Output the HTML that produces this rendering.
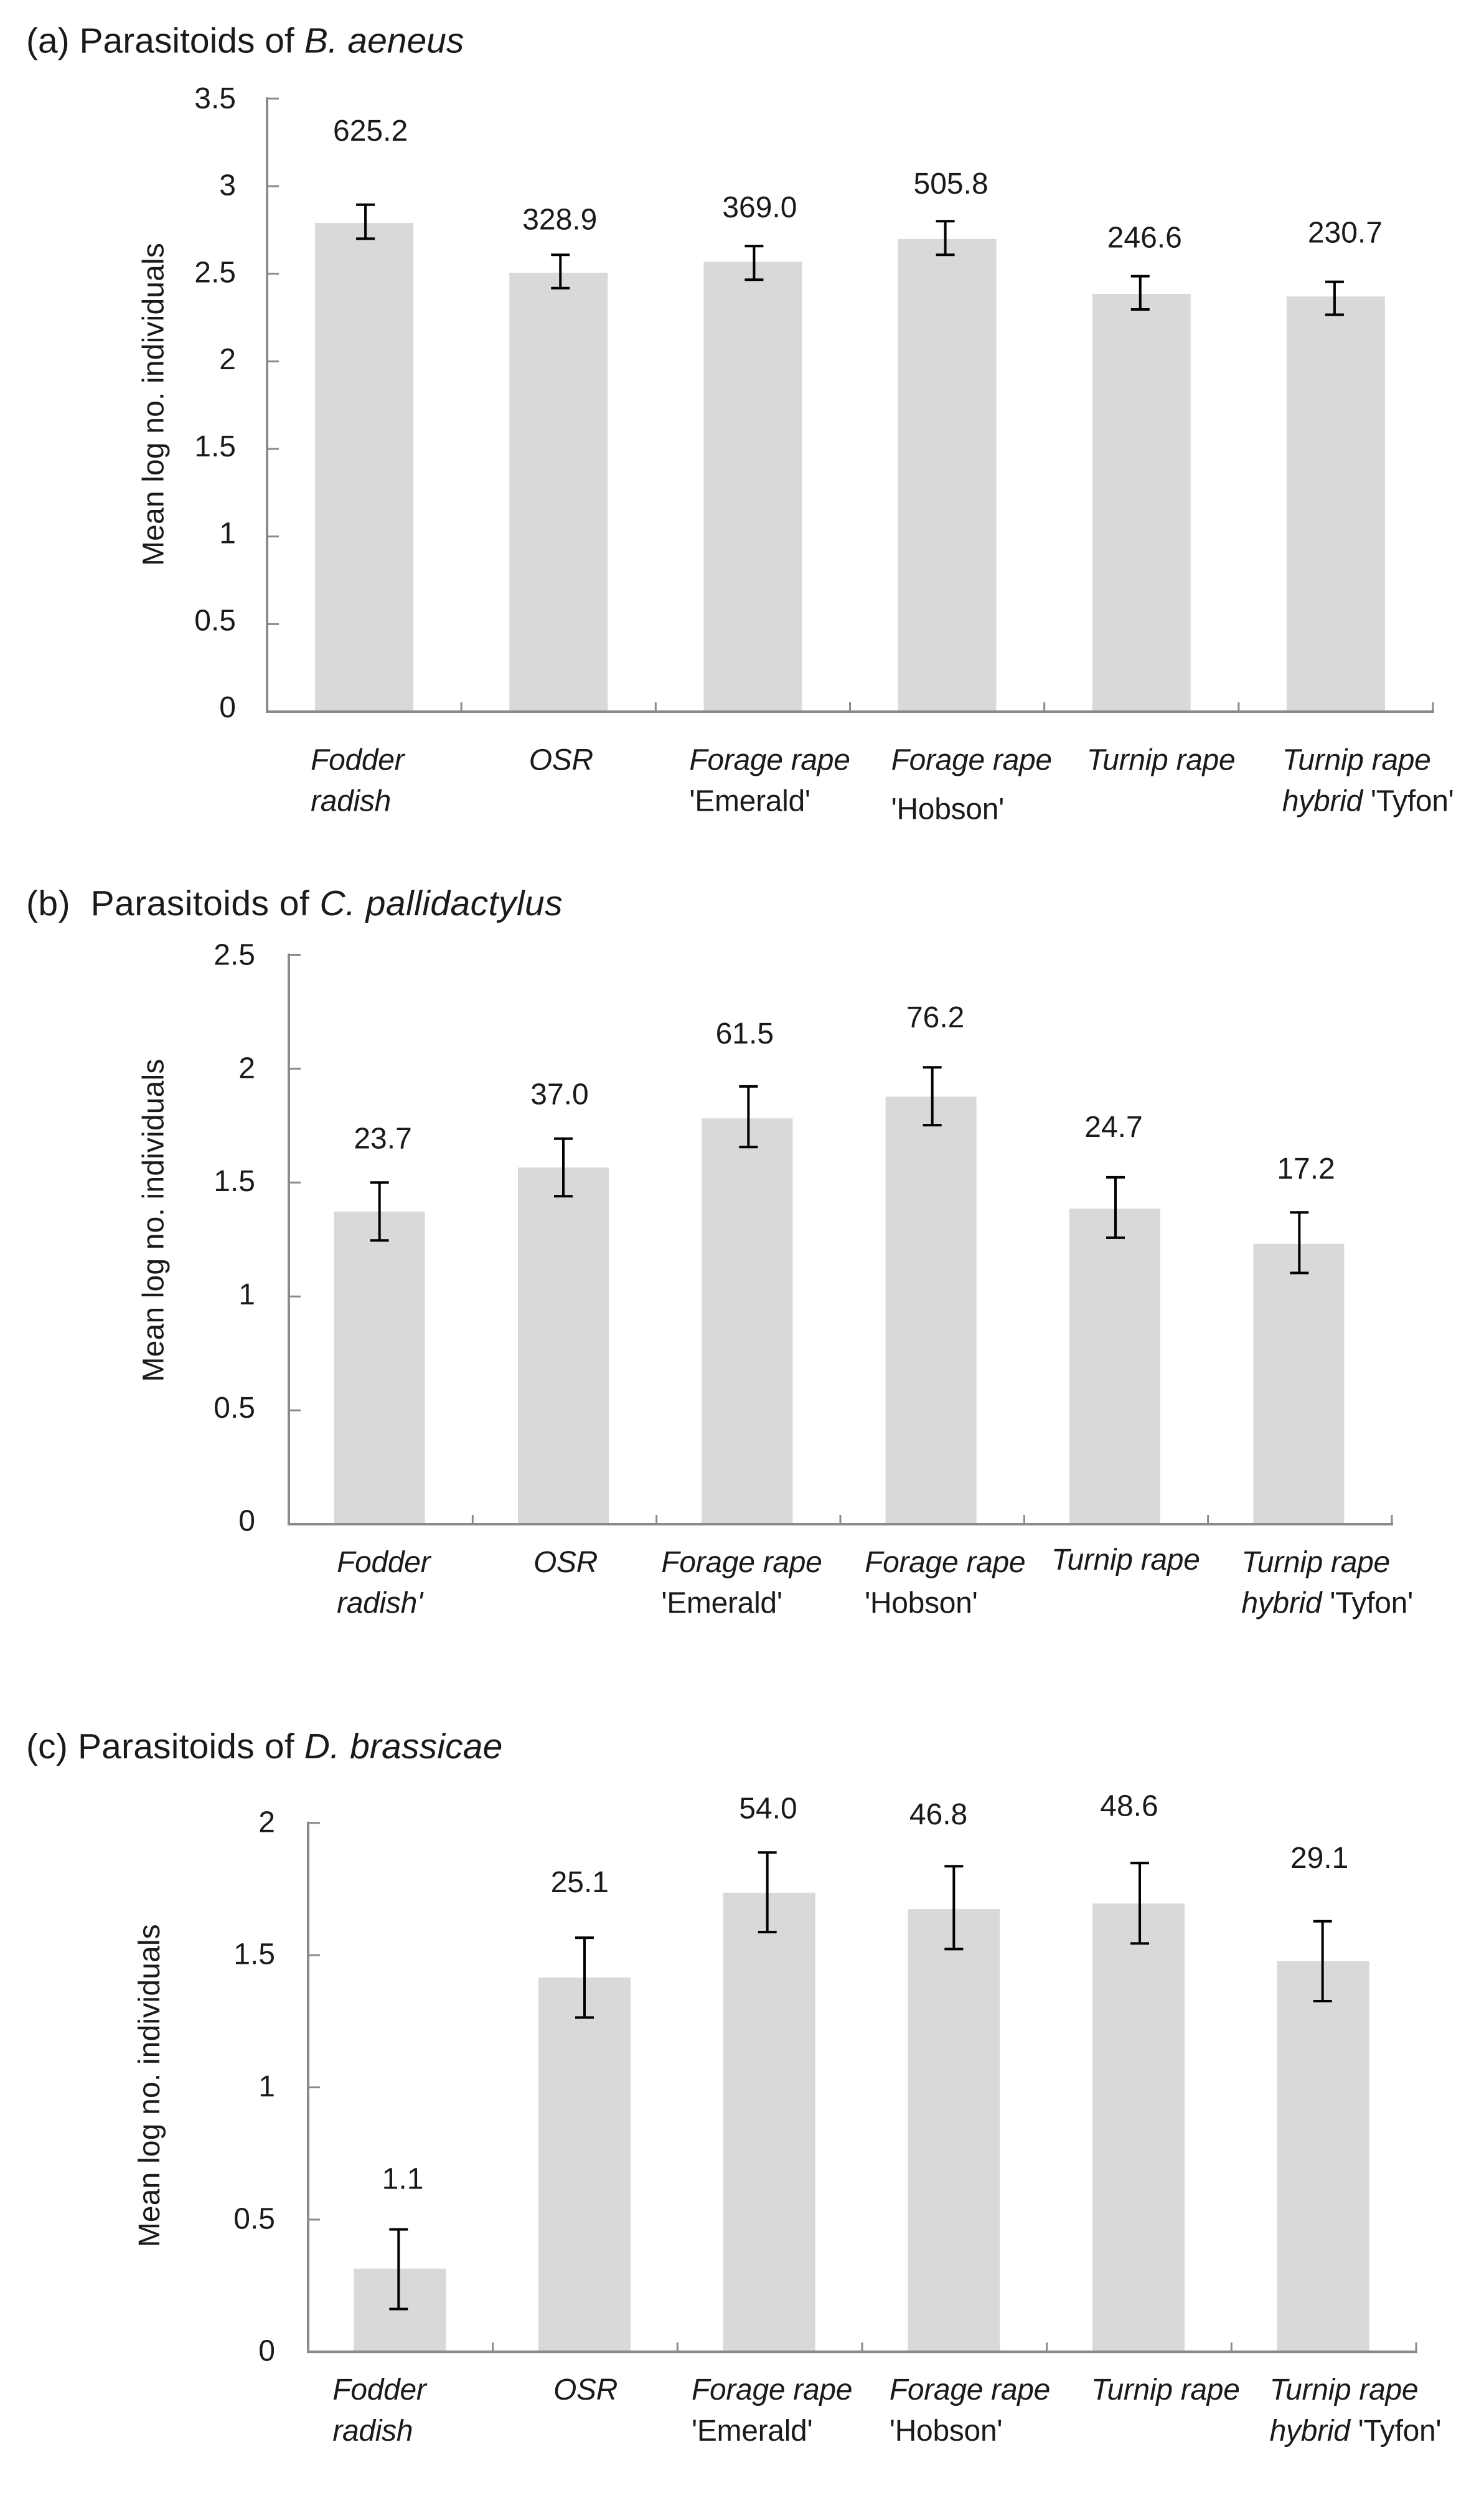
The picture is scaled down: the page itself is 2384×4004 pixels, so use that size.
<!DOCTYPE html>
<html lang="en">
<head>
<meta charset="utf-8">
<title>Mean log number of parasitoid individuals by crop</title>
<style>
  html, body { margin: 0; padding: 0; background: #fff; }
  body { width: 2384px; height: 4004px; overflow: hidden; }
  svg { display: block; }
  text { font-family: "Liberation Sans", sans-serif; fill: #1a1a1a; }
  .panel-title { font-size: 57px; }
  .tick-label { font-size: 48px; text-anchor: end; }
  .value-label { font-size: 48px; text-anchor: middle; }
  .cat-label { font-size: 48px; letter-spacing: -0.3px; }
  .axis-title { font-size: 48px; letter-spacing: 0.17px; }
</style>
</head>
<body>
<svg id="figure" xmlns="http://www.w3.org/2000/svg" width="2384" height="4004" viewBox="0 0 2384 4004">
  <rect x="0" y="0" width="2384" height="4004" fill="#ffffff"/>
  <text class="panel-title" x="42" y="84.4">(a) Parasitoids of <tspan font-style="italic">B. aeneus</tspan></text>
  <text class="panel-title" x="42" y="1470" xml:space="preserve" style="letter-spacing:0.45px">(b)  Parasitoids of <tspan font-style="italic">C. pallidactylus</tspan></text>
  <text class="panel-title" x="42" y="2824" style="letter-spacing:0.17px">(c) Parasitoids of <tspan font-style="italic">D. brassicae</tspan></text>
</svg>

<script>
// ---------- Panel (a) data ----------
const categoriesA = ["Fodder|radish", "OSR", "Forage rape|'Emerald'", "Forage rape|'Hobson'", "Turnip rape", "Turnip rape|hybrid 'Tyfon'"];
const meansA = [2.79, 2.506, 2.568, 2.698, 2.385, 2.37];
const errHighA = [2.894, 2.608, 2.658, 2.80, 2.486, 2.454];
const errLowA = [2.70, 2.418, 2.466, 2.608, 2.296, 2.266];
const printedA = ["625.2", "328.9", "369.0", "505.8", "246.6", "230.7"];
const yTicksA = [0, 0.5, 1, 1.5, 2, 2.5, 3, 3.5];
const yTickLabelsA = ["0", "0.5", "1", "1.5", "2", "2.5", "3", "3.5"];

// ---------- Panel (b) data ----------
const categoriesB = ["Fodder|radish'", "OSR", "Forage rape|'Emerald'", "Forage rape|'Hobson'", "Turnip rape", "Turnip rape|hybrid 'Tyfon'"];
const meansB = [1.373, 1.566, 1.782, 1.877, 1.385, 1.231];
const errHighB = [1.50, 1.693, 1.922, 2.006, 1.523, 1.369];
const errLowB = [1.246, 1.44, 1.656, 1.752, 1.258, 1.103];
const printedB = ["23.7", "37.0", "61.5", "76.2", "24.7", "17.2"];
const yTicksB = [0, 0.5, 1, 1.5, 2, 2.5];
const yTickLabelsB = ["0", "0.5", "1", "1.5", "2", "2.5"];

// ---------- Panel (c) data ----------
const categoriesC = ["Fodder|radish", "OSR", "Forage rape|'Emerald'", "Forage rape|'Hobson'", "Turnip rape", "Turnip rape|hybrid 'Tyfon'"];
const meansC = [0.3146, 1.415, 1.736, 1.674, 1.695, 1.477];
const errHighC = [0.463, 1.566, 1.888, 1.836, 1.848, 1.628];
const errLowC = [0.162, 1.264, 1.587, 1.523, 1.544, 1.326];
const printedC = ["1.1", "25.1", "54.0", "46.8", "48.6", "29.1"];
const yTicksC = [0, 0.5, 1, 1.5, 2];
const yTickLabelsC = ["0", "0.5", "1", "1.5", "2"];

// ---------- Layout (pixels; separate from the data above) ----------
const layoutA = {
  key: 'a', left: 429, right: 2302, top: 158.3, bottom: 1143, yMax: 3.5,
  barWidth: 158, bandShift: 0, errNudge: [2, 3, 2, -3, -2, -2],
  labelDx: [10, 2, 11, 6, 5, 15], labelGap: [102.8, 41, 46, 44.4, 46, 63],
  tickRight: 379, tickDyBottom: 9, tickDyTop: 15.6,
  catDx: [-86, -47.5, -102, -90, -88, -86], catBase: 93.7, catLine: 66, catLineExtra: [0, 0, 0, 13, 0, 0], catRaise: [0, 0, 0, 0, 0, 0],
  titleX: 262.5, titleMid: 649.5
};
const layoutB = {
  key: 'b', left: 464, right: 2236, top: 1533.5, bottom: 2448, yMax: 2.5,
  barWidth: 146, bandShift: -2, errNudge: [0, 0, 2, 2, 1, 1],
  labelDx: [5.4, -6, -4, 7, -2, 11.7], labelGap: [55, 55, 69, 64, 65, 54],
  tickRight: 410, tickDyBottom: 10.7, tickDyTop: 16,
  catDx: [-68.6, -48, -138, -106.6, -102, -92], catBase: 77, catLine: 65.7, catLineExtra: [0, 0, 0, 0, 0, 0], catRaise: [0, 0, 0, 0, 4, 0],
  titleX: 262.5, titleMid: 1960
};
const layoutC = {
  key: 'c', left: 495, right: 2275, top: 2927.7, bottom: 3777.3, yMax: 2,
  barWidth: 148, bandShift: -1, errNudge: [-2, 0, -3, 0, 2, -1],
  labelDx: [4.7, -7.7, -1.7, -24.8, -15, -6], labelGap: [65, 73, 54.6, 67.4, 76, 85.6],
  tickRight: 442, tickDyBottom: 14.4, tickDyTop: 14.6,
  catDx: [-108, -50, -124.7, -103.5, -76, -86], catBase: 76.7, catLine: 66, catLineExtra: [0, 0, 0, 0, 0, 0], catRaise: [0, 0, 0, 0, 0, 0],
  titleX: 256, titleMid: 3349.7
};

const SVG_NS = 'http://www.w3.org/2000/svg';
const figure = document.getElementById('figure');

function make(tag, attrs, parent) {
  const node = document.createElementNS(SVG_NS, tag);
  for (const k in attrs) node.setAttribute(k, attrs[k]);
  parent.appendChild(node);
  return node;
}

// Quoted cultivar names are upright, everything else on a category line is italic.
function fillCategoryLine(textNode, line) {
  const parts = line.split(/('[^']+')/).filter(function (p) { return p.length > 0; });
  parts.forEach(function (part) {
    const span = document.createElementNS(SVG_NS, 'tspan');
    const quoted = /^'[^']+'$/.test(part);
    span.setAttribute('font-style', quoted ? 'normal' : 'italic');
    span.textContent = part;
    textNode.appendChild(span);
  });
}

function drawPanel(L, categories, means, errHigh, errLow, printed, yTicks, yTickLabels) {
  const g = make('g', {}, figure);
  
  

  const yScale = function (v) { return L.bottom - (v / L.yMax) * (L.bottom - L.top); };
  const band = (L.right - L.left) / categories.length;
  const xEdge = function (i) { return L.left + band * i; };
  const xCenter = function (i) { return L.left + band * (i + 0.5) + L.bandShift; };

  // Bars
  means.forEach(function (m, i) {
    const bar = make('rect', {
      x: xCenter(i) - L.barWidth / 2, y: yScale(m),
      width: L.barWidth, height: L.bottom - yScale(m), fill: '#d9d9d9'
    }, g);
    
    
  });

  // Axes
  const yAxis = make('line', { x1: L.left, x2: L.left, y1: L.top - 2, y2: L.bottom, stroke: '#8a8a8a', 'stroke-width': 4 }, g);
  
  
  const xAxis = make('line', { x1: L.left - 2, x2: L.right + 2, y1: L.bottom, y2: L.bottom, stroke: '#8a8a8a', 'stroke-width': 4 }, g);
  
  

  // Y ticks and labels
  yTicks.forEach(function (v, i) {
    const y = yScale(v);
    if (v > 0) {
      const tick = make('line', { x1: L.left, x2: L.left + 19, y1: y, y2: y, stroke: '#8a8a8a', 'stroke-width': 3 }, g);
      
      
    }
    const dy = L.tickDyBottom + (L.tickDyTop - L.tickDyBottom) * (v / L.yMax);
    const label = make('text', { class: 'tick-label', x: L.tickRight, y: y + dy }, g);
    label.textContent = yTickLabels[i];
    
    
  });

  // X ticks
  categories.forEach(function (c, i) {
    const tick = make('line', { x1: xEdge(i + 1), x2: xEdge(i + 1), y1: L.bottom, y2: L.bottom - 15, stroke: '#8a8a8a', 'stroke-width': 3 }, g);
    
    
  });

  // Error bars
  means.forEach(function (m, i) {
    const x = xCenter(i) + L.errNudge[i];
    const hi = yScale(errHigh[i]);
    const lo = yScale(errLow[i]);
    const err = make('path', {
      d: 'M' + (x - 15) + ' ' + hi + 'H' + (x + 15) + 'M' + x + ' ' + hi + 'V' + lo + 'M' + (x - 15) + ' ' + lo + 'H' + (x + 15),
      fill: 'none', stroke: '#000000', 'stroke-width': 4
    }, g);
    
    

    const val = make('text', { class: 'value-label', x: xCenter(i) + L.labelDx[i], y: hi - L.labelGap[i] }, g);
    val.textContent = printed[i];
    
    
  });

  // Category labels
  categories.forEach(function (c, i) {
    const lines = c.split('|');
    lines.forEach(function (line, n) {
      const x = xCenter(i) + L.catDx[i];
      const y = L.bottom + L.catBase - L.catRaise[i] + n * (L.catLine + L.catLineExtra[i]);
      const t = make('text', { class: 'cat-label', x: x, y: y }, g);
      fillCategoryLine(t, line);
      
      
    });
  });

  // Y axis title
  const title = make('text', {
    class: 'axis-title', x: 0, y: 0, 'text-anchor': 'middle',
    transform: 'translate(' + L.titleX + ' ' + L.titleMid + ') rotate(-90)'
  }, g);
  title.textContent = 'Mean log no. individuals';
  
  
}

drawPanel(layoutA, categoriesA, meansA, errHighA, errLowA, printedA, yTicksA, yTickLabelsA);
drawPanel(layoutB, categoriesB, meansB, errHighB, errLowB, printedB, yTicksB, yTickLabelsB);
drawPanel(layoutC, categoriesC, meansC, errHighC, errLowC, printedC, yTicksC, yTickLabelsC);
</script>
</body>
</html>
